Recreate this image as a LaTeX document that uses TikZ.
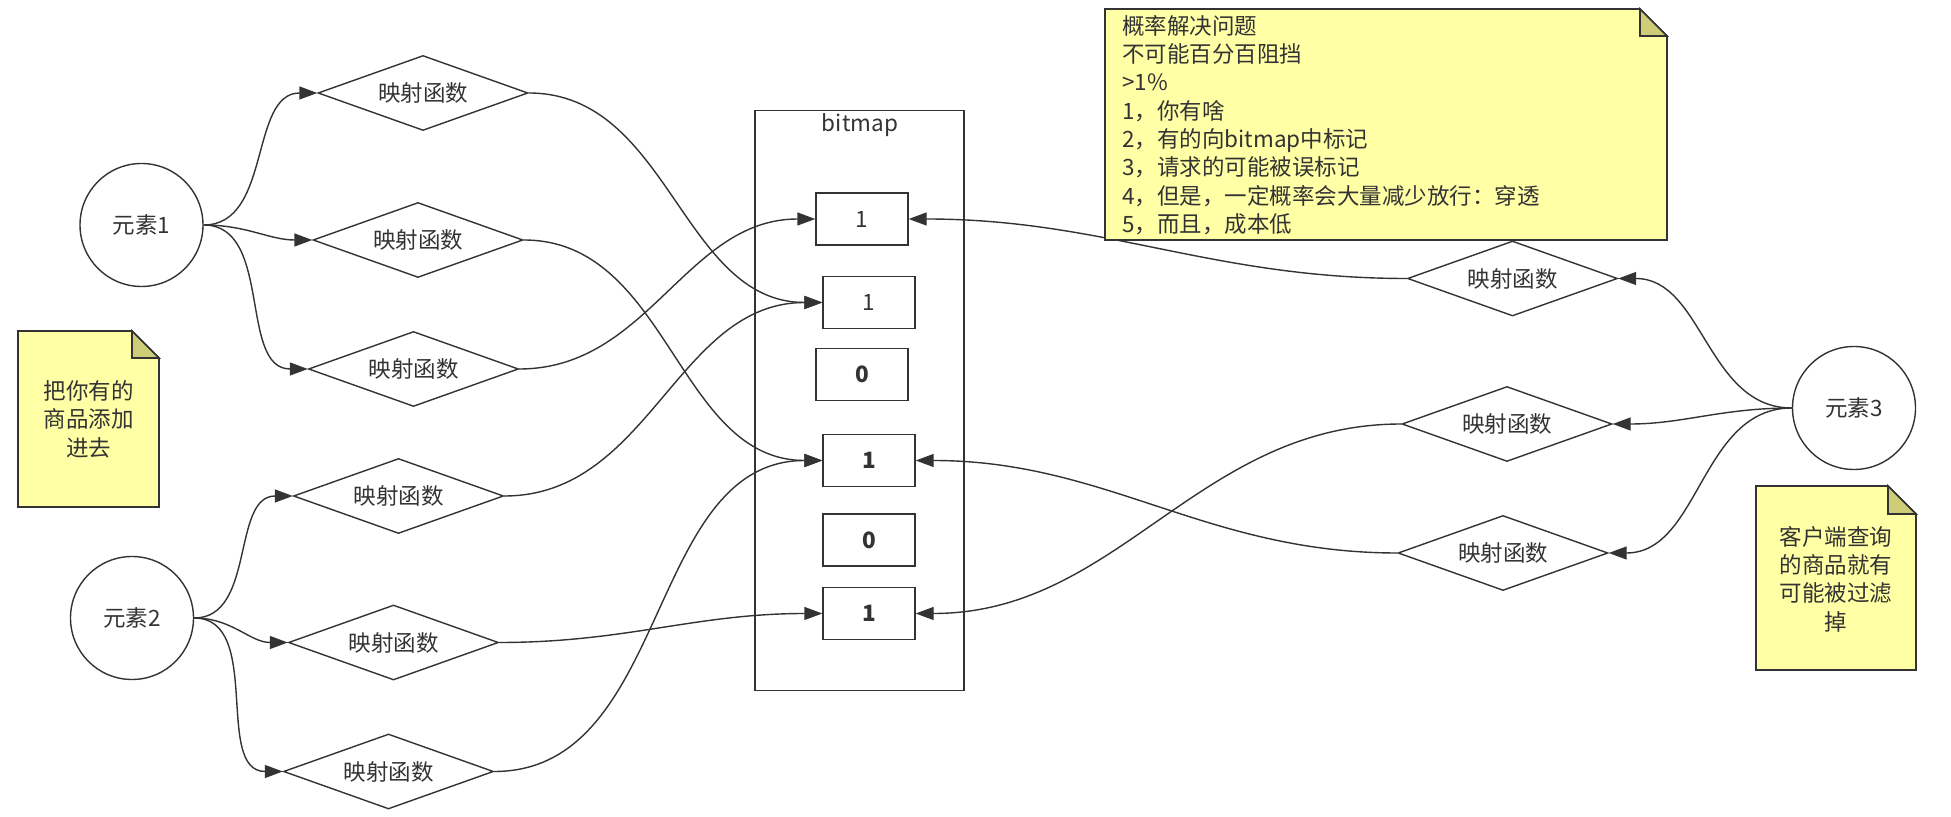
\documentclass[tikz,border=0pt]{standalone}
\usepackage{fontspec}
\setmainfont{Noto Sans CJK SC}
\usetikzlibrary{shapes.geometric,arrows.meta}
\definecolor{ink}{HTML}{333333}
\definecolor{notefill}{HTML}{FFFFA6}
\definecolor{notefold}{HTML}{CDCD78}

\begin{document}
\begin{tikzpicture}[x=0.5pt,y=-0.5pt,
  every node/.style={text=ink,font=\fontsize{11.25pt}{14.15pt}\selectfont},
  elem/.style={draw=ink,line width=0.7pt,circle,minimum size=61.5pt,inner sep=0pt},
  hashfn/.style={draw=ink,line width=0.7pt,diamond,minimum width=105pt,minimum height=37.5pt,inner sep=0pt,shape aspect=2.8},
  bit/.style={draw=ink,line width=0.7pt,rectangle,minimum width=46pt,minimum height=26pt,inner sep=0pt},
  arr/.style={draw=ink,line width=0.7pt,-{Triangle[length=9pt,width=6.5pt]}},
  note/.style={draw=ink,line width=0.8pt,fill=notefill,line join=miter}]
  \useasboundingbox (0,0) rectangle (1951,817);

  \node[draw=ink,line width=0.7pt,minimum width=104.5pt,minimum height=290pt,inner sep=0pt] (bitmap) at (859.5,400.7) {};
  \node (bitlbl) at (860,125) {bitmap};
  \node[bit] (c1) at (862,219) {1};
  \node[bit] (c2) at (869,302.5) {1};
  \node[bit] (c3) at (862,374.5) {\bfseries 0};
  \node[bit] (c4) at (869,460.5) {\bfseries 1};
  \node[bit] (c5) at (869,540) {\bfseries 0};
  \node[bit] (c6) at (869,613.5) {\bfseries 1};

  \node[elem] (e1) at (141.5,225) {元素1};
  \node[elem] (e2) at (132,618) {元素2};
  \node[elem] (e3) at (1854,408) {元素3};

  \node[hashfn] (a1) at (423,93) {映射函数};
  \node[hashfn] (a2) at (418,240) {映射函数};
  \node[hashfn] (a3) at (413.5,369) {映射函数};
  \node[hashfn] (b1) at (398.5,496) {映射函数};
  \node[hashfn] (b2) at (393.5,642.5) {映射函数};
  \node[hashfn] (b3) at (388.5,771.5) {映射函数};
  \node[hashfn] (d1) at (1512.5,278.5) {映射函数};
  \node[hashfn] (d2) at (1507,424) {映射函数};
  \node[hashfn] (d3) at (1503,553) {映射函数};

  \draw[arr] (e1.east) to[out=0,in=180] (a1.west);
  \draw[arr] (e1.east) to[out=0,in=180] (a2.west);
  \draw[arr] (e1.east) to[out=0,in=180] (a3.west);
  \draw[arr] (e2.east) to[out=0,in=180] (b1.west);
  \draw[arr] (e2.east) to[out=0,in=180] (b2.west);
  \draw[arr] (e2.east) to[out=0,in=180] (b3.west);
  \draw[arr] (a1.east) to[out=0,in=180] (c2.west);
  \draw[arr] (a2.east) to[out=0,in=180] (c4.west);
  \draw[arr] (a3.east) to[out=0,in=180] (c1.west);
  \draw[arr] (b1.east) to[out=0,in=180] (c2.west);
  \draw[arr] (b2.east) to[out=0,in=180] (c6.west);
  \draw[arr] (b3.east) to[out=0,in=180] (c4.west);
  \draw[arr] (e3.west) to[out=180,in=0] (d1.east);
  \draw[arr] (e3.west) to[out=180,in=0] (d2.east);
  \draw[arr] (e3.west) to[out=180,in=0] (d3.east);
  \draw[arr] (d1.west) to[out=180,in=0] (c1.east);
  \draw[arr] (d2.west) to[out=180,in=0] (c6.east);
  \draw[arr] (d3.west) to[out=180,in=0] (c4.east);

  \draw[note] (18,331) -- (132,331) -- (159,358) -- (159,507) -- (18,507) -- cycle;
  \draw[note,fill=notefold] (132,331) -- (132,358) -- (159,358) -- cycle;
  \node[align=center] (addnote) at (88.5,419) {把你有的\\商品添加\\进去};

  \draw[note] (1105,9) -- (1640,9) -- (1667,36) -- (1667,240) -- (1105,240) -- cycle;
  \draw[note,fill=notefold] (1640,9) -- (1640,36) -- (1667,36) -- cycle;
  \node[anchor=west,align=left,inner sep=0pt] (ideanote) at (1122,125) {概率解决问题\\不可能百分百阻挡\\>1\%\\1，你有啥\\2，有的向bitmap中标记\\3，请求的可能被误标记\\4，但是，一定概率会大量减少放行：穿透\\5，而且，成本低};

  \draw[note] (1756,486) -- (1888,486) -- (1916,514) -- (1916,670) -- (1756,670) -- cycle;
  \draw[note,fill=notefold] (1888,486) -- (1888,514) -- (1916,514) -- cycle;
  \node[align=center] (querynote) at (1836,579) {客户端查询\\的商品就有\\可能被过滤\\掉};
\end{tikzpicture}
\end{document}
